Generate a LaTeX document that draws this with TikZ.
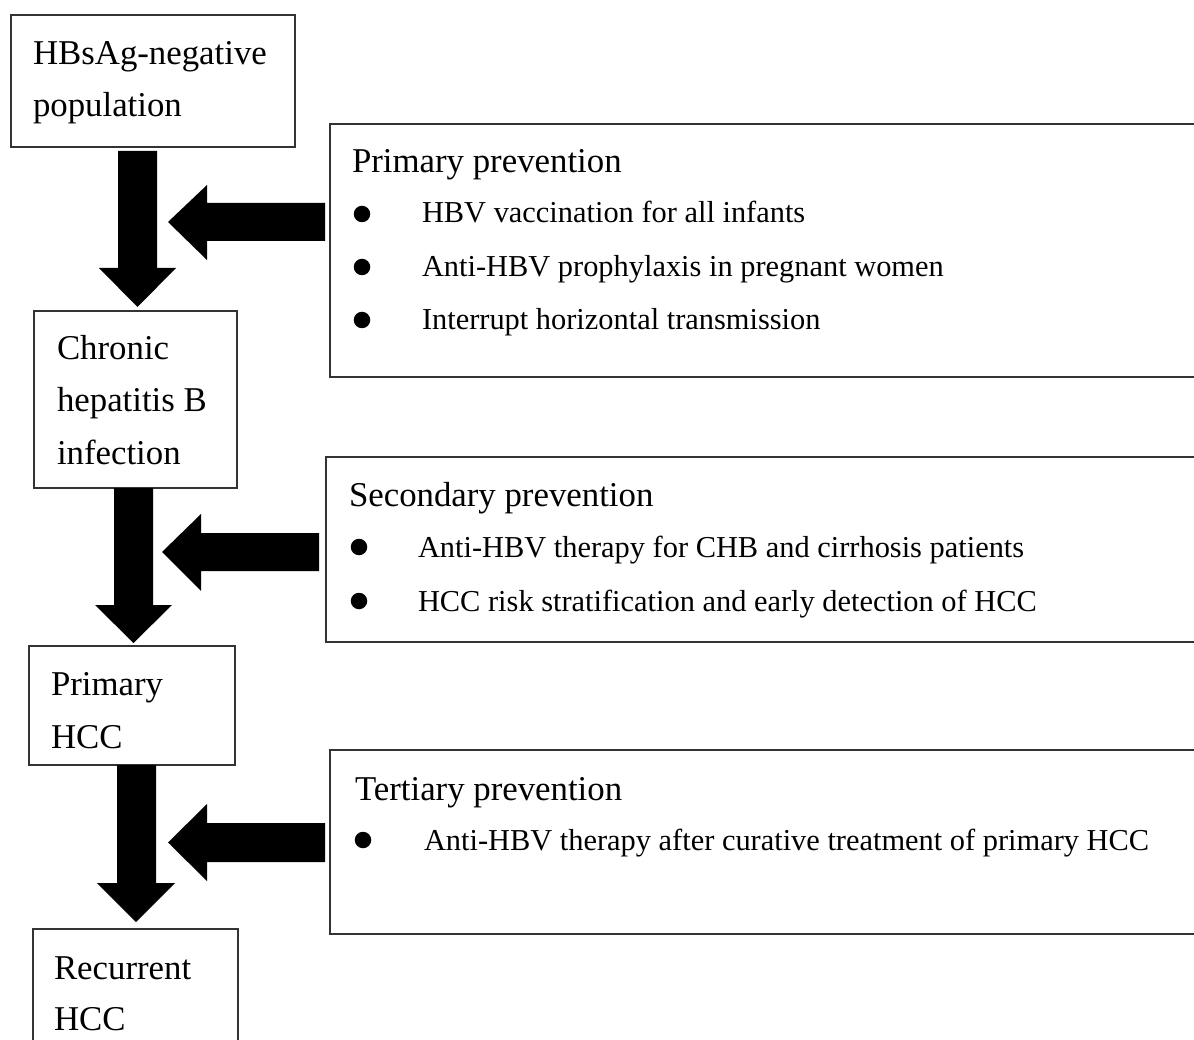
\documentclass[tikz,border=0pt]{standalone}
\usepackage{fontspec}
\setmainfont{Liberation Serif}
\begin{document}
\begin{tikzpicture}[x=1pt,y=-1pt,
  box/.style={draw=black!80, line width=1.3pt, rectangle, inner sep=0pt, outer sep=0pt, anchor=north west},
  txt/.style={anchor=base west, inner sep=0pt, outer sep=0pt, font=\fontsize{30.4pt}{36pt}\selectfont},
  big/.style={txt, font=\fontsize{34.8pt}{40pt}\selectfont},
  bul/.style={circle, fill=black, inner sep=0pt, minimum size=16.5pt},
  fat/.style={fill=black}]
\useasboundingbox (0,0) rectangle (1194,1040);
\clip (0,0) rectangle (1194,1040);
% left chain boxes
\node[box, minimum width=284pt, minimum height=132pt] (b1) at (11,15) {};
\node[box, minimum width=203pt, minimum height=177pt] (b2) at (34,311) {};
\node[box, minimum width=206pt, minimum height=119pt] (b3) at (29,646) {};
\node[box, minimum width=205pt, minimum height=140pt] (b4) at (33,929) {};
% right prevention boxes
\node[box, minimum width=880pt, minimum height=253pt] (p1) at (330,124) {};
\node[box, minimum width=884pt, minimum height=185pt] (p2) at (326,457) {};
\node[box, minimum width=880pt, minimum height=184pt] (p3) at (330,750) {};
% texts in left boxes
\node[big] (b1a) at (33,65) {HBsAg-negative};
\node[big] (b1b) at (33,117) {population};
\node[big] (b2a) at (57,360) {Chronic};
\node[big] (b2b) at (57,412) {hepatitis B};
\node[big] (b2c) at (57,464) {infection};
\node[big] (b3a) at (51,695) {Primary};
\node[big] (b3b) at (51,748) {HCC};
\node[big] (b4a) at (54,979) {Recurrent};
\node[big] (b4b) at (54,1030) {HCC};
% primary prevention
\node[big] (p1t) at (352,173) {Primary prevention};
\node[bul] (p1b1) at (362,214) {};
\node[bul] (p1b2) at (362,267) {};
\node[bul] (p1b3) at (362,320) {};
\node[txt] (p1i1) at (422,223) {HBV vaccination for all infants};
\node[txt] (p1i2) at (422,277) {Anti-HBV prophylaxis in pregnant women};
\node[txt] (p1i3) at (422,330) {Interrupt horizontal transmission};
% secondary prevention
\node[big] (p2t) at (349,506) {Secondary prevention};
\node[bul] (p2b1) at (359,547) {};
\node[bul] (p2b2) at (359,601) {};
\node[txt] (p2i1) at (418,557) {Anti-HBV therapy for CHB and cirrhosis patients};
\node[txt] (p2i2) at (418,611) {HCC risk stratification and early detection of HCC};
% tertiary prevention
\node[big] (p3t) at (355,800) {Tertiary prevention};
\node[bul] (p3b1) at (363,840) {};
\node[txt] (p3i1) at (424,850) {Anti-HBV therapy after curative treatment of primary HCC};
% fat down arrows (from box to box)
\fill[fat] ([yshift=-4pt]118,0 |- b1.south) -- ([yshift=-4pt]157,0 |- b1.south) -- (157,268) -- (176,268)
  -- ([yshift=4pt]137.5,0 |- b2.north) -- (99,268) -- (118,268) -- cycle;
\fill[fat] (114,0 |- b2.south) -- (153,0 |- b2.south) -- (153,605) -- (172,605)
  -- ([yshift=3pt]133.5,0 |- b3.north) -- (95,605) -- (114,605) -- cycle;
\fill[fat] (117,0 |- b3.south) -- (156,0 |- b3.south) -- (156,883) -- (175,883)
  -- ([yshift=7pt]136,0 |- b4.north) -- (97,883) -- (117,883) -- cycle;
% fat left arrows (from prevention boxes)
\fill[fat] ([xshift=-5pt]p1.west |- 0,203) -- ([xshift=-5pt]p1.west |- 0,241) -- (207,241) -- (207,260)
  -- (168,222) -- (207,185) -- (207,203) -- cycle;
\fill[fat] ([xshift=-7pt]p2.west |- 0,533) -- ([xshift=-7pt]p2.west |- 0,571) -- (201,571) -- (201,591)
  -- (162,552) -- (201,514) -- (201,533) -- cycle;
\fill[fat] ([xshift=-5pt]p3.west |- 0,823) -- ([xshift=-5pt]p3.west |- 0,862) -- (207,862) -- (207,881)
  -- (168,842.5) -- (207,804) -- (207,823) -- cycle;
\end{tikzpicture}
\end{document}
